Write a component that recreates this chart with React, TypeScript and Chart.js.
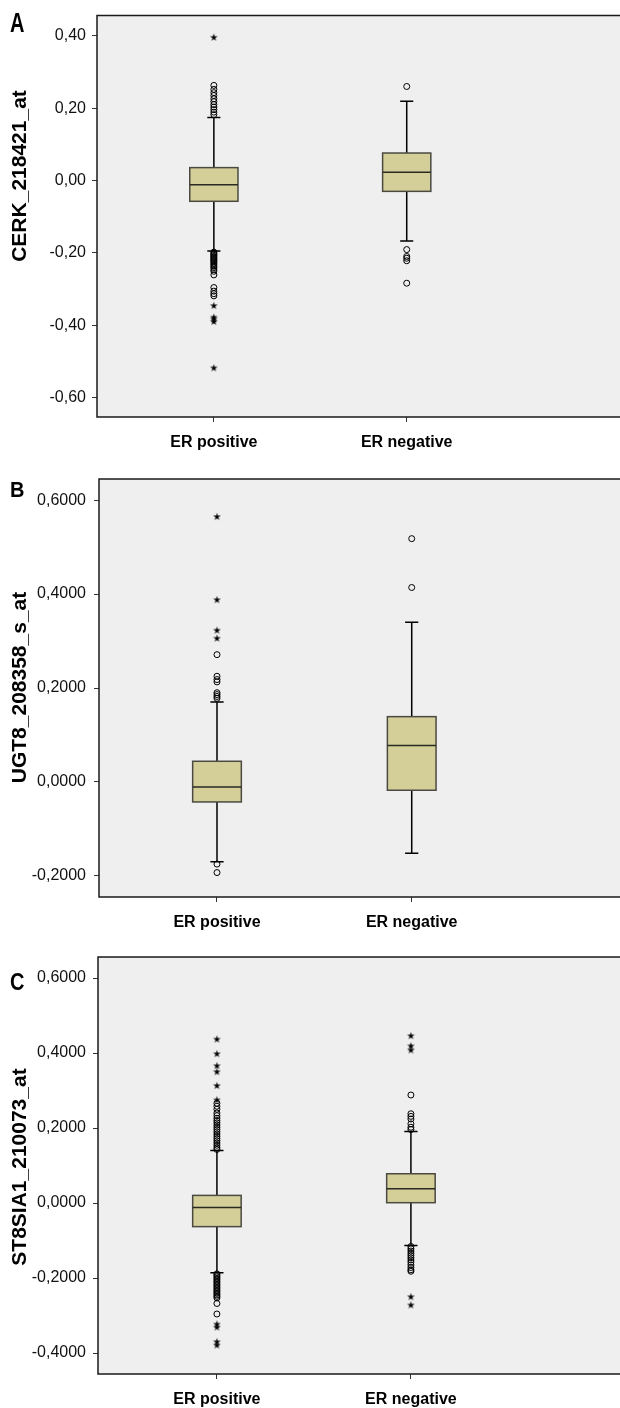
import React, { useEffect, useRef } from "react";
import { Chart, registerables } from "chart.js";
Chart.register(...registerables);

// ---------- data ----------
const categories = ["ER positive", "ER negative"];

// stats order: [lower whisker, Q1, median, Q3, upper whisker]
// Panel A
const aTitle = "CERK_218421_at";
const aTicks = [-0.6, -0.4, -0.2, 0, 0.2, 0.4];
const aPosStats = [-0.195, -0.0575, -0.012, 0.0356, 0.1745];
const aNegStats = [-0.167, -0.03, 0.023, 0.076, 0.219];
const aPosCircles = [0.263, 0.252, 0.243, 0.235, 0.226, 0.218, 0.21, 0.203, 0.196, 0.189, 0.182,
  -0.198, -0.201, -0.204, -0.207, -0.21, -0.213, -0.216, -0.219, -0.222, -0.225, -0.229, -0.233,
  -0.237, -0.241, -0.246, -0.251, -0.261, -0.296, -0.306, -0.313, -0.319];
const aPosStars = [0.396, -0.346, -0.378, -0.383, -0.39, -0.518];
const aNegCircles = [0.26, -0.191, -0.21, -0.215, -0.222, -0.284];
const aNegStars: number[] = [];

// Panel B
const bTitle = "UGT8_208358_s_at";
const bTicks = [-0.2, 0, 0.2, 0.4, 0.6];
const bPosStats = [-0.17, -0.0426, -0.0106, 0.044, 0.17];
const bNegStats = [-0.152, -0.0177, 0.0774, 0.139, 0.34];
const bPosCircles = [0.178, 0.182, 0.186, 0.19, 0.213, 0.218, 0.225, 0.271, -0.175, -0.193];
const bPosStars = [0.565, 0.388, 0.323, 0.306];
const bNegCircles = [0.518, 0.414];
const bNegStars: number[] = [];

// Panel C
const cTitle = "ST8SIA1_210073_at";
const cTicks = [-0.4, -0.2, 0, 0.2, 0.4, 0.6];
const cPosStats = [-0.186, -0.063, -0.0117, 0.0203, 0.14];
const cNegStats = [-0.113, 0.0008, 0.038, 0.078, 0.191];
const cPosCircles = [0.266, 0.258, 0.25, 0.24, 0.233, 0.226, 0.22, 0.214, 0.208, 0.202, 0.196, 0.19,
  0.184, 0.178, 0.172, 0.166, 0.16, 0.154, 0.148, 0.143,
  -0.189, -0.193, -0.197, -0.201, -0.205, -0.209, -0.213, -0.217, -0.221, -0.225, -0.229, -0.233,
  -0.237, -0.241, -0.245, -0.249, -0.253, -0.268, -0.296];
const cPosStars = [0.437, 0.398, 0.366, 0.35, 0.313, 0.275, -0.323, -0.331, -0.37, -0.379];
const cNegCircles = [0.288, 0.238, 0.231, 0.224, 0.211, 0.202, 0.196,
  -0.116, -0.122, -0.128, -0.134, -0.14, -0.146, -0.152, -0.158, -0.165, -0.172, -0.178, -0.182];
const cNegStars = [0.446, 0.419, 0.408, -0.25, -0.272];

// ---------- layout / style ----------
const FONT = '"Liberation Sans", Arial, Helvetica, sans-serif';
const BOX_HALF = 0.125; // in category units
const CAP_HALF = 0.034;

const panels = [
  {
    letter: "A", title: aTitle, ticks: aTicks, decimals: 2, yMin: -0.654, yMax: 0.456,
    xMin: 0.394, xMax: 3.08,
    stats: [aPosStats, aNegStats], circles: [aPosCircles, aNegCircles], stars: [aPosStars, aNegStars],
    top: 0, height: 460, plotTop: 12, plotBottom: 417, plotLeft: 97, tickPad: 6,
    titleCenter: 176, letterBase: 32, letterStretch: 1.4,
  },
  {
    letter: "B", title: bTitle, ticks: bTicks, decimals: 4, yMin: -0.245, yMax: 0.645,
    xMin: 0.394, xMax: 3.044,
    stats: [bPosStats, bNegStats], circles: [bPosCircles, bNegCircles], stars: [bPosStars, bNegStars],
    top: 460, height: 480, plotTop: 19, plotBottom: 437, plotLeft: 99, tickPad: 8,
    titleCenter: 227.5, letterBase: 37, letterStretch: 1.1,
  },
  {
    letter: "C", title: cTitle, ticks: cTicks, decimals: 4, yMin: -0.456, yMax: 0.656,
    xMin: 0.387, xMax: 3.052,
    stats: [cPosStats, cNegStats], circles: [cPosCircles, cNegCircles], stars: [cPosStars, cNegStars],
    top: 940, height: 468, plotTop: 17, plotBottom: 434, plotLeft: 98, tickPad: 7,
    titleCenter: 227, letterBase: 50, letterStretch: 1.19,
  },
];

function makeStar(): HTMLCanvasElement {
  const c = document.createElement("canvas");
  c.width = 9;
  c.height = 9;
  const g = c.getContext("2d")!;
  g.fillStyle = "#000";
  g.beginPath();
  const cx = 4.5, cy = 4.7, ro = 4, ri = 1.5;
  for (let i = 0; i < 10; i++) {
    const r = i % 2 === 0 ? ro : ri;
    const a = -Math.PI / 2 + (i * Math.PI) / 5;
    const px = cx + r * Math.cos(a);
    const py = cy + r * Math.sin(a);
    if (i === 0) g.moveTo(px, py);
    else g.lineTo(px, py);
  }
  g.closePath();
  g.fill();
  return c;
}

function makePlugin(p: any) {
  return {
    id: "spssBox",
    beforeDraw(chart: any) {
      const { ctx, chartArea: a } = chart;
      ctx.save();
      ctx.fillStyle = "#efefef";
      ctx.fillRect(a.left, a.top, chart.width - a.left, a.bottom - a.top);
      ctx.restore();
    },
    beforeDatasetsDraw(chart: any) {
      const { ctx } = chart;
      const xs = chart.scales.x;
      const ys = chart.scales.y;
      ctx.save();
      p.stats.forEach((s: number[], i: number) => {
        const cx = xs.getPixelForValue(i + 1);
        const [lw, q1, med, q3, uw] = s.map((v) => ys.getPixelForValue(v));
        const bl = xs.getPixelForValue(i + 1 - BOX_HALF);
        const br = xs.getPixelForValue(i + 1 + BOX_HALF);
        const cl = xs.getPixelForValue(i + 1 - CAP_HALF);
        const cr = xs.getPixelForValue(i + 1 + CAP_HALF);
        ctx.strokeStyle = "#000";
        ctx.lineWidth = 1.5;
        ctx.beginPath();
        ctx.moveTo(cx, uw);
        ctx.lineTo(cx, q3);
        ctx.moveTo(cx, q1);
        ctx.lineTo(cx, lw);
        ctx.moveTo(cl, uw);
        ctx.lineTo(cr, uw);
        ctx.moveTo(cl, lw);
        ctx.lineTo(cr, lw);
        ctx.stroke();
        ctx.fillStyle = "#d4cf98";
        ctx.fillRect(bl, q3, br - bl, q1 - q3);
        ctx.strokeStyle = "#4a4a42";
        ctx.lineWidth = 1.5;
        ctx.strokeRect(bl, q3, br - bl, q1 - q3);
        ctx.strokeStyle = "#2a2a24";
        ctx.beginPath();
        ctx.moveTo(bl, med);
        ctx.lineTo(br, med);
        ctx.stroke();
      });
      ctx.restore();
    },
    afterDraw(chart: any) {
      const { ctx, chartArea: a } = chart;
      ctx.save();
      ctx.strokeStyle = "#1a1a1a";
      ctx.lineWidth = 1.5;
      ctx.beginPath();
      ctx.moveTo(chart.width, a.top);
      ctx.lineTo(a.left, a.top);
      ctx.lineTo(a.left, a.bottom);
      ctx.lineTo(chart.width, a.bottom);
      ctx.stroke();
      // y title
      ctx.fillStyle = "#000";
      ctx.font = `bold 21px ${FONT}`;
      ctx.textAlign = "center";
      ctx.textBaseline = "alphabetic";
      ctx.translate(26, p.titleCenter);
      ctx.rotate(-Math.PI / 2);
      ctx.fillText(p.title, 0, 0);
      ctx.restore();
      // panel letter
      ctx.save();
      ctx.fillStyle = "#000";
      ctx.font = `bold 20px ${FONT}`;
      ctx.textAlign = "left";
      ctx.textBaseline = "alphabetic";
      ctx.translate(10, p.letterBase);
      ctx.scale(1, p.letterStretch);
      ctx.fillText(p.letter, 0, 0);
      ctx.restore();
    },
  };
}

function Panel({ p }: { p: any }) {
  const ref = useRef<HTMLCanvasElement>(null);
  useEffect(() => {
    const star = makeStar();
    const circleData: any[] = [];
    const starData: any[] = [];
    p.circles.forEach((arr: number[], i: number) => arr.forEach((v) => circleData.push({ x: i + 1, y: v })));
    p.stars.forEach((arr: number[], i: number) => arr.forEach((v) => starData.push({ x: i + 1, y: v })));
    const chart = new Chart(ref.current!, {
      type: "scatter",
      data: {
        datasets: [
          {
            data: circleData,
            pointStyle: "circle",
            pointRadius: 3,
            borderColor: "#000",
            borderWidth: 1,
            backgroundColor: "rgba(0,0,0,0)",
          },
          {
            data: starData,
            pointStyle: star as any,
            pointRadius: 4,
            borderColor: "#000",
            backgroundColor: "#000",
          },
        ],
      },
      options: {
        responsive: false,
        animation: false,
        devicePixelRatio: 1,
        layout: { padding: { top: p.plotTop, left: 0, right: 0, bottom: 0 } },
        plugins: { legend: { display: false }, tooltip: { enabled: false } },
        events: [],
        scales: {
          x: {
            type: "linear",
            min: p.xMin,
            max: p.xMax,
            afterBuildTicks: (s: any) => {
              s.ticks = categories.map((_, i) => ({ value: i + 1 }));
            },
            afterFit: (s: any) => {
              s.height = p.height - p.plotBottom;
            },
            ticks: {
              callback: (_v: any, i: number) => categories[i],
              font: { family: FONT, size: 16, weight: "bold" },
              color: "#000",
              padding: 11,
              maxRotation: 0,
              autoSkip: false,
            },
            grid: { display: true, drawOnChartArea: false, drawTicks: true, tickLength: 5, color: "#333", lineWidth: 1 },
            border: { display: false },
          },
          y: {
            type: "linear",
            min: p.yMin,
            max: p.yMax,
            afterBuildTicks: (s: any) => {
              s.ticks = p.ticks.map((v: number) => ({ value: v }));
            },
            afterFit: (s: any) => {
              s.width = p.plotLeft;
            },
            ticks: {
              callback: (v: any) => Number(v).toFixed(p.decimals).replace(".", ","),
              font: { family: FONT, size: 16 },
              color: "#111",
              padding: p.tickPad,
              autoSkip: false,
            },
            grid: { display: true, drawOnChartArea: false, drawTicks: true, tickLength: 5, color: "#333", lineWidth: 1 },
            border: { display: false },
          },
        },
      } as any,
      plugins: [makePlugin(p)],
    });
    return () => chart.destroy();
  }, []);
  return (
    <canvas
      ref={ref}
      width={620}
      height={p.height}
      style={{ position: "absolute", left: 0, top: p.top, width: 620, height: p.height, display: "block" }}
    />
  );
}

export default function App() {
  return (
    <div style={{ position: "absolute", left: 0, top: 0, width: 620, height: 1408, background: "#fff", overflow: "hidden" }}>
      {panels.map((p) => (
        <Panel key={p.letter} p={p} />
      ))}
    </div>
  );
}
